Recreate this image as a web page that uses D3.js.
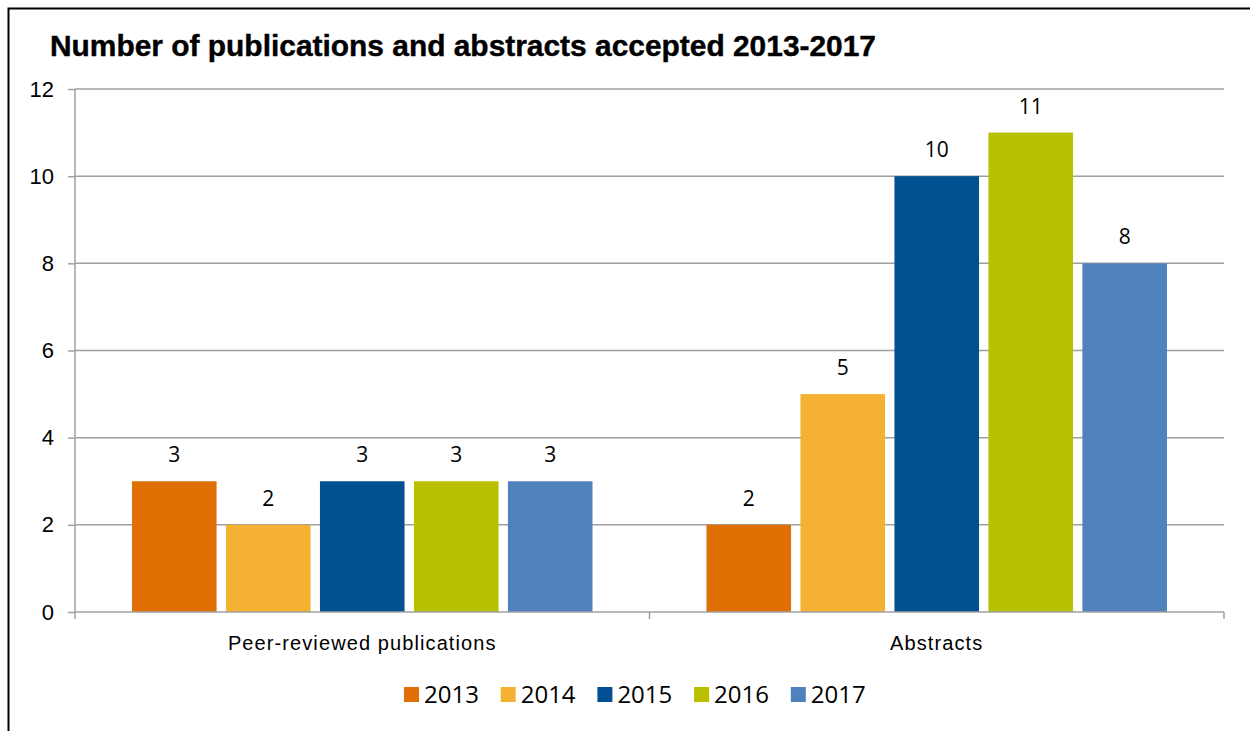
<!DOCTYPE html>
<html>
<head>
<meta charset="utf-8">
<script src="https://cdn.jsdelivr.net/npm/d3@7"></script>
<style>
  body { margin: 0; background: #fff; }
  svg { display: block; }
</style>
</head>
<body>
<svg width="1250" height="731"></svg>
<script>
    // chart data
    var categories = ['Peer-reviewed publications', 'Abstracts'];
    var years = ['2013', '2014', '2015', '2016', '2017'];
    var values2013 = [3, 2];
    var values2014 = [2, 5];
    var values2015 = [3, 10];
    var values2016 = [3, 11];
    var values2017 = [3, 8];
    var yTicks = [0, 2, 4, 6, 8, 10, 12];
    var colors = ['#e06f04', '#f5b132', '#015192', '#b9c000', '#4f81bd'];

    var seriesValues = [values2013, values2014, values2015, values2016, values2017];

    // margins of the plot area
    var margin = { top: 89, right: 26, bottom: 119, left: 75 };
    var width = 1250 - margin.left - margin.right;
    var height = 731 - margin.top - margin.bottom;

    var svg = d3.select('svg');

    // frame (left and top only)
    svg.append('path')
        .attr('d', 'M8.5,731 L8.5,8.5 L1250,8.5')
        .attr('fill', 'none')
        .attr('stroke', '#000')
        .attr('stroke-width', 2);

    svg.append('text')
        .attr('x', 50)
        .attr('y', 56)
        .attr('font-family', 'Liberation Sans, Arial, sans-serif')
        .attr('font-weight', 'bold')
        .attr('font-size', 29)
        .attr('stroke', '#000')
        .attr('stroke-width', 0.4)
        .attr('textLength', 826)
        .attr('lengthAdjust', 'spacingAndGlyphs')
        .text('Number of publications and abstracts accepted 2013-2017');

    var graph = svg.append('g')
        .attr('transform', 'translate(' + margin.left + ',' + margin.top + ')');

    var x0 = d3.scaleBand().domain(categories).range([0, width]).paddingInner(0).paddingOuter(0);
    var x1 = d3.scaleBand().domain(years).range([57, x0.bandwidth() - 57]).paddingInner(0.1).paddingOuter(0);
    var y = d3.scaleLinear().domain([0, 12]).range([height, 0]);

    // gridlines
    graph.append('g')
        .selectAll('line')
        .data(yTicks.filter(function (d) { return d > 0; }))
        .enter().append('line')
        .attr('x1', 0)
        .attr('x2', width)
        .attr('y1', function (d) { return y(d); })
        .attr('y2', function (d) { return y(d); })
        .attr('stroke', '#a0a0a0')
        .attr('stroke-width', 1.5);

    // bars
    var groups = graph.selectAll('.cat')
        .data(categories)
        .enter().append('g')
        .attr('class', 'cat')
        .attr('transform', function (d) { return 'translate(' + x0(d) + ',0)'; });

    groups.selectAll('rect')
        .data(function (c, ci) {
            return years.map(function (yr, i) { return { year: yr, value: seriesValues[i][ci], color: colors[i] }; });
        })
        .enter().append('rect')
        .attr('x', function (d) { return x1(d.year); })
        .attr('y', function (d) { return y(d.value); })
        .attr('width', x1.bandwidth())
        .attr('height', function (d) { return height - y(d.value); })
        .attr('fill', function (d) { return d.color; });

    groups.selectAll('.lbl')
        .data(function (c, ci) {
            return years.map(function (yr, i) { return { year: yr, value: seriesValues[i][ci] }; });
        })
        .enter().append('text')
        .attr('class', 'lbl')
        .attr('x', function (d) { return x1(d.year) + x1.bandwidth() / 2; })
        .attr('y', function (d) { return y(d.value) - 19; })
        .attr('text-anchor', 'middle')
        .attr('font-family', 'Open Sans, DejaVu Sans, sans-serif')
        .attr('font-size', 21)
        .attr('fill', '#000')
        .text(function (d) { return d.value; });

    // y axis
    var yAxis = graph.append('g')
        .call(d3.axisLeft(y).tickValues(yTicks).tickSize(7).tickPadding(14).tickFormat(d3.format('d')));
    yAxis.select('.domain').attr('stroke', '#a0a0a0').attr('stroke-width', 1.5).attr('d', 'M0,0V' + height);
    yAxis.selectAll('.tick line').attr('stroke', '#a0a0a0').attr('stroke-width', 1.5);
    yAxis.selectAll('.tick text')
        .attr('font-family', 'Liberation Sans, Arial, sans-serif')
        .attr('font-size', 22)
        .attr('fill', '#000');

    // x axis
    var xAxis = graph.append('g')
        .attr('transform', 'translate(0,' + height + ')');
    xAxis.append('line')
        .attr('x1', 0).attr('x2', width)
        .attr('stroke', '#a0a0a0').attr('stroke-width', 1.5);
    xAxis.selectAll('.xt')
        .data([0].concat(categories.map(function (c) { return x0(c) + x0.bandwidth(); })))
        .enter().append('line')
        .attr('x1', function (d) { return d; })
        .attr('x2', function (d) { return d; })
        .attr('y1', 0)
        .attr('y2', 7)
        .attr('stroke', '#a0a0a0').attr('stroke-width', 1.5);
    xAxis.selectAll('.cl')
        .data(categories)
        .enter().append('text')
        .attr('x', function (d) { return x0(d) + x0.bandwidth() / 2; })
        .attr('y', 38)
        .attr('text-anchor', 'middle')
        .attr('font-family', 'Liberation Sans, Arial, sans-serif')
        .attr('font-size', 20)
        .attr('letter-spacing', 1.1)
        .attr('fill', '#000')
        .text(function (d) { return d; });

    // legend
    var legend = svg.append('g')
        .attr('transform', 'translate(404,687)');
    var item = legend.selectAll('g')
        .data(years)
        .enter().append('g')
        .attr('transform', function (d, i) { return 'translate(' + (i * 96.7) + ',0)'; });
    item.append('rect')
        .attr('width', 15)
        .attr('height', 15)
        .attr('fill', function (d, i) { return colors[i]; });
    item.append('text')
        .attr('x', 20)
        .attr('y', 16)
        .attr('font-family', 'Open Sans, DejaVu Sans, sans-serif')
        .attr('font-size', 24)
        .attr('fill', '#000')
        .text(function (d) { return d; });
</script>
</body>
</html>
